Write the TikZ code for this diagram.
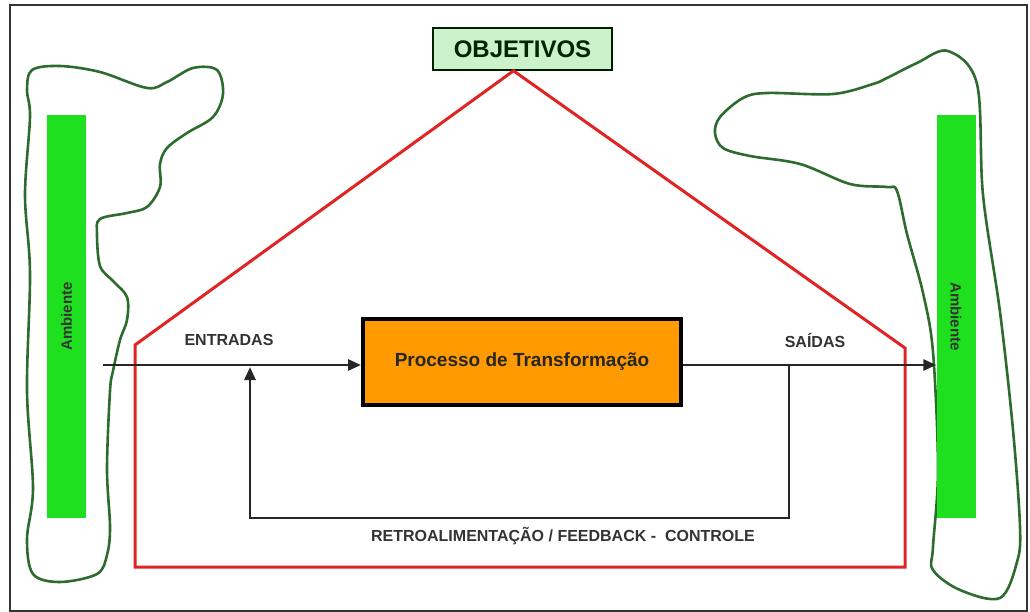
\documentclass[tikz,border=0pt]{standalone}
\usepackage{fontspec}
\setmainfont{Liberation Sans}
\usetikzlibrary{arrows.meta}
\definecolor{blobgreen}{HTML}{2E6B2E}
\definecolor{bargreen}{HTML}{1EE01E}
\definecolor{objfill}{HTML}{CCF2CC}
\definecolor{redline}{HTML}{E02424}
\definecolor{procfill}{HTML}{FF9A00}
\tikzset{
  blob/.style={draw=blobgreen, line width=2.6pt, smooth cycle, tension=0.55},
  envbar/.style={fill=bargreen, draw=none, minimum width=39pt, minimum height=403pt, inner sep=0pt},
  envtext/.style={font=\bfseries\fontsize{15}{16}\selectfont, text=black!80},
  flow/.style={line width=2.8pt, draw=black!85},
  tip/.style={-{Triangle[length=13pt,width=11pt]}},
  lbl/.style={font=\bfseries\fontsize{16}{18}\selectfont, text=black!80, inner sep=0pt},
}
\begin{document}
\begin{tikzpicture}[x=1pt,y=-1pt]
\useasboundingbox (0,0) rectangle (1030,612);
\draw[line width=2pt, black!80] (10,5) rectangle (1027,611);

% blobs
\draw[blob] plot coordinates {(32,70) (60,66) (100,72) (147,88) (167,82) (193,68) (217,70) (223,94) (213,117) (187,133) (167,148) (160,164) (160,187) (147,207) (127,213) (100,219) (97,234) (100,266) (113,281) (127,297) (127,320) (120,340) (113,371) (110,391) (107,469) (110,527) (107,555) (97,574) (60,582) (33,574) (27,539) (33,488) (27,391) (30,273) (25,195) (30,117) (27,90)};
\draw[blob] plot coordinates {(948,51) (977,84) (983,195) (1000,312) (1013,430) (1020,527) (1017,562) (1000,598) (960,590) (933,570) (933,547) (938,469) (933,352) (923,293) (907,234) (897,191) (887,187) (850,184) (800,164) (750,156) (723,148) (715,133) (720,117) (743,98) (767,93) (833,94) (873,84) (887,78) (917,63)};

% environment bars
\node[envbar] (lbar) at (66.5,316.5) {};
\node[envtext, rotate=90] (ltext) at (lbar.center) {Ambiente};
\node[envbar] (rbar) at (956,316.5) {};
\node[envtext, rotate=-90] (rtext) at (rbar.center) {Ambiente};

% objectives
\node[draw=black!70!green!40!black, fill=objfill, line width=1.6pt, minimum width=179pt, minimum height=42pt, inner sep=0pt,
      font=\bfseries\fontsize{24}{26}\selectfont, text=black!85!green] (obj) at (522.5,49) {OBJETIVOS};

% red boundary
\coordinate (apex) at ([xshift=-9pt]obj.south);
\draw[redline, line width=3pt, line join=miter] (apex) -- (135,345) -- (135,567) -- (905,567) -- (905,348) -- cycle;

% process
\node[draw=black, fill=procfill, line width=4pt, minimum width=318pt, minimum height=86pt, inner sep=0pt,
      font=\bfseries\fontsize{19}{22}\selectfont, text=black!85] (proc) at (522,361.5) {Processo de Transforma\c{c}\~ao};

% flows
\coordinate (in) at (103,365);
\draw[flow, tip] (in) -- (in -| proc.west);
\draw[flow, tip] (in -| proc.east) -- (in -| rbar.west);
\coordinate (fbout) at (789,365);
\coordinate (fbin) at (250,367);
\coordinate (fbcorner) at (789,518);
\draw[flow, tip] (fbout) -- (fbcorner) -| (fbin);

% labels
\node[lbl] (entr) at (229,340) {ENTRADAS};
\node[lbl] (said) at (815,340) {SA\'IDAS};
\node[lbl] (retro) at (563,536) {RETROALIMENTA\c{C}\~AO / FEEDBACK -\ \ CONTROLE};
\end{tikzpicture}
\end{document}
